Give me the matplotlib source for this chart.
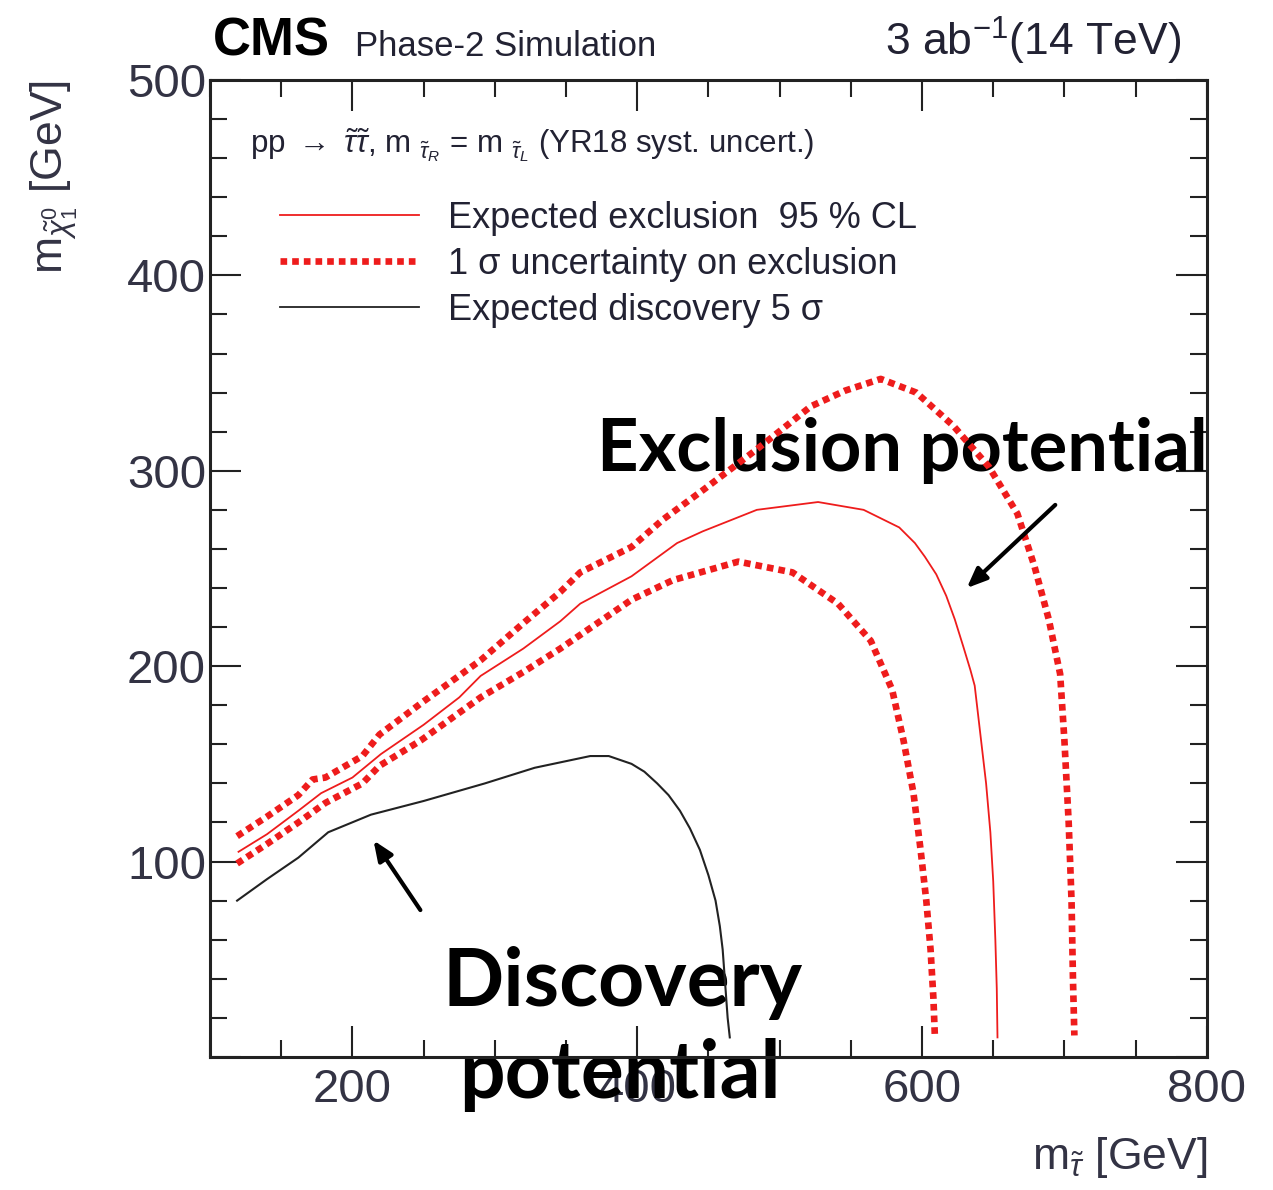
import matplotlib
matplotlib.use("Agg")
import matplotlib.pyplot as plt
from matplotlib.lines import Line2D
from matplotlib.ticker import MultipleLocator, FuncFormatter

# expected 5 sigma discovery contour
disc_x = [119, 140, 162, 183, 213, 250, 293, 328, 367, 380, 396, 405, 414, 422, 430, 437,
          444, 450, 455, 458, 460, 462, 463.5, 465]
disc_y = [80, 91, 102, 115, 124, 131, 140, 148, 154, 154, 150, 146, 140, 134, 126, 117,
          106, 93, 80, 67, 55, 35, 20, 10]

# expected 95% CL exclusion contour
excl_x = [120, 140, 162, 178, 200, 220, 250, 275, 290, 320, 346, 360, 396, 428, 446, 484,
          527, 559, 584, 595, 602, 610, 617, 623, 629, 634, 637, 641, 645, 648, 650, 651.5,
          652.5, 653]
excl_y = [105, 114, 126, 135, 143, 155, 170, 184, 195, 209, 223, 232, 246, 263, 269, 280,
          284, 280, 271, 263, 256, 247, 236, 224, 210, 198, 190, 165, 140, 115, 90, 60,
          35, 10]

# +1 sigma band edge
up_x = [119, 140, 162, 172, 181, 207, 219, 250, 290, 320, 346, 360, 396, 418, 446, 484,
        522, 546, 571, 596, 622, 647, 667, 679, 689, 697, 700, 703, 705, 706, 707]
up_y = [113, 123, 134, 142, 143, 154, 165, 182, 203, 222, 238, 248, 261, 275, 290, 311,
        333, 341, 347, 340, 323, 302, 278, 251, 224, 196, 162, 120, 80, 40, 11]

# -1 sigma band edge
dn_x = [119, 140, 162, 181, 207, 219, 248, 290, 320, 346, 360, 396, 425, 471, 509, 541,
        564, 579, 587, 594, 599, 603, 606, 608, 609]
dn_y = [99, 109, 120, 130, 140, 149, 162, 184, 197, 209, 216, 234, 244, 253.5, 248, 232,
        213, 188, 162, 135, 106, 80, 55, 30, 11]

legend_labels = ["Expected exclusion  95 % CL",
                 "1 σ uncertainty on exclusion",
                 "Expected discovery 5 σ"]

RED = "#ee1c1c"
TXT = "#222233"

plt.rcParams["font.family"] = ["Liberation Sans", "DejaVu Sans"]
plt.rcParams["mathtext.fontset"] = "custom"
plt.rcParams["mathtext.rm"] = "Liberation Sans"
plt.rcParams["mathtext.it"] = "Liberation Sans:italic"
plt.rcParams["mathtext.bf"] = "Liberation Sans:bold"

fig = plt.figure(figsize=(12.73, 11.9), dpi=100)
ax = fig.add_axes([0.165, 0.1118, 0.783, 0.821])

ax.plot(up_x, up_y, color=RED, lw=4.8, dashes=(1, 0.75), zorder=3)
ax.plot(dn_x, dn_y, color=RED, lw=4.8, dashes=(1, 0.75), zorder=3)
ax.plot(excl_x, excl_y, color=RED, lw=1.3, zorder=3)
ax.plot(disc_x, disc_y, color="#222222", lw=1.5, zorder=3)

ax.set_xlim(100, 800)
ax.set_ylim(0, 500)
ax.xaxis.set_major_locator(MultipleLocator(200))
ax.xaxis.set_minor_locator(MultipleLocator(50))
ax.yaxis.set_major_locator(MultipleLocator(100))
ax.yaxis.set_minor_locator(MultipleLocator(20))
ax.yaxis.set_major_formatter(FuncFormatter(lambda v, p: "" if v == 0 else f"{v:.0f}"))
ax.tick_params(which="both", direction="in", top=True, right=True, width=1.5, colors="#222222",
               labelcolor="#333344")
ax.tick_params(which="major", length=22, labelsize=34)
ax.tick_params(which="minor", length=12)
ax.tick_params(axis="x", which="major", pad=8)
ax.tick_params(axis="y", which="major", pad=3)
for s in ax.spines.values():
    s.set_linewidth(2.2)
    s.set_color("#222222")

ax.set_xlabel(r"m$_{\tilde{\tau}}$ [GeV]", fontsize=32, loc="right", color="#333344")
ax.xaxis.set_label_coords(1.0, -0.08)
ax.set_ylabel(r"m$_{\tilde{\chi}^{0}_{1}}$ [GeV]", fontsize=32, loc="top", color="#333344")
ax.yaxis.set_label_coords(-0.13, 1.0)

fig.text(0.167, 0.953, "CMS", fontsize=38, fontweight="bold", ha="left", va="baseline")
fig.text(0.279, 0.953, "Phase-2 Simulation", fontsize=25, ha="left", va="baseline", color=TXT)
fig.text(0.928, 0.953, r"3 ab$^{-1}$(14 TeV)", fontsize=32, ha="right", va="baseline", color=TXT)

ax.text(0.040, 0.933,
        r"pp $\rightarrow$ $\tilde{\tau}\tilde{\tau}$, m $_{\tilde{\tau}_{R}}$ = m $_{\tilde{\tau}_{L}}$ (YR18 syst. uncert.)",
        transform=ax.transAxes, fontsize=22.5, ha="left", va="center", color=TXT)

handles = [Line2D([], [], color=RED, lw=1.3),
           Line2D([], [], color=RED, lw=4.8, dashes=(1, 0.75)),
           Line2D([], [], color="#222222", lw=1.3)]
ax.legend(handles, legend_labels, loc="upper left", bbox_to_anchor=(0.070, 0.876), frameon=False,
          fontsize=26, handlelength=3.85, handletextpad=0.8, labelspacing=0.3, borderpad=0,
          borderaxespad=0, labelcolor=TXT)

# annotations
ann_font = dict(family="Lato", fontweight="bold", color="black")
ax.text(372, 300, "Exclusion potential", fontsize=52, ha="left", va="baseline", zorder=2, **ann_font)
ax.text(390, 26, "Discovery", fontsize=58, ha="center", va="baseline", zorder=2, **ann_font)
ax.text(388, -21, "potential", fontsize=58, ha="center", va="baseline", zorder=2, clip_on=False, **ann_font)
ax.annotate("", xy=(630, 239), xytext=(695, 283.5),
            arrowprops=dict(arrowstyle="-|>,head_length=1.2,head_width=0.5", lw=3, color="black"))
ax.annotate("", xy=(213.7, 112), xytext=(248.8, 74),
            arrowprops=dict(arrowstyle="-|>,head_length=1.2,head_width=0.5", lw=3, color="black"))

fig.savefig("out.png", dpi=100)
